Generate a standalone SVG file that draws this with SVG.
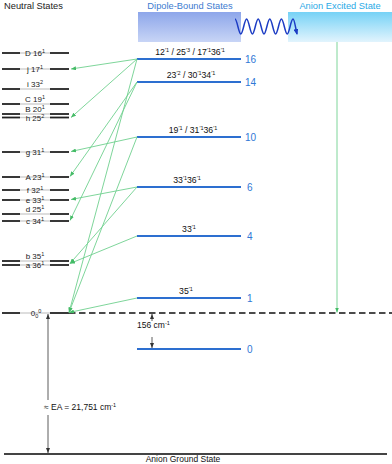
<svg xmlns="http://www.w3.org/2000/svg" width="392" height="464" viewBox="0 0 392 464">
<style>
text{font-family:"Liberation Sans",Arial,sans-serif;}
.ttl{font-size:9.3px;}
.nl{font-size:8px;fill:#222;text-anchor:middle;}
.sup{font-size:5.5px;}
.dl{font-size:8.7px;fill:#111;text-anchor:middle;}
.num{font-size:10px;fill:#2f78d6;}
.blk{stroke:#222;stroke-width:1.8;}
.gry{stroke:#cfcfcf;stroke-width:1.4;}
.blue{stroke:#2d6fd0;stroke-width:1.9;}
.g{stroke:#6fd08f;stroke-width:0.9;fill:none;marker-end:url(#ga);}
.k{stroke:#333;stroke-width:0.8;fill:none;}
</style>
<defs>
<marker id="ga" markerUnits="userSpaceOnUse" markerWidth="5" markerHeight="4" refX="5" refY="2" orient="auto"><path d="M0,0 L5,2 L0,4 z" fill="#44bb66"/></marker>
<marker id="ka" markerUnits="userSpaceOnUse" markerWidth="5" markerHeight="4" refX="5" refY="2" orient="auto"><path d="M0,0 L5,2 L0,4 z" fill="#333"/></marker>
<marker id="ba" markerUnits="userSpaceOnUse" markerWidth="6" markerHeight="5" refX="5" refY="2.5" orient="auto"><path d="M0,0 L6,2.5 L0,5 z" fill="#1c3cc4"/></marker>
<linearGradient id="gd" x1="0" y1="0" x2="0" y2="1"><stop offset="0" stop-color="#8da6ea"/><stop offset="1" stop-color="#c8d5f6"/></linearGradient>
<linearGradient id="ge" x1="0" y1="0" x2="0" y2="1"><stop offset="0" stop-color="#76d2f6"/><stop offset="1" stop-color="#e2f4fd"/></linearGradient>
</defs>

<g id="headers">
<text class="ttl" x="4" y="9" fill="#222">Neutral States</text>
<text class="ttl" x="190" y="9" fill="#3d7bd0" text-anchor="middle">Dipole-Bound States</text>
<text class="ttl" x="340" y="9" fill="#2aa9e6" text-anchor="middle">Anion Excited State</text>
<rect id="dbs-box" x="138" y="12" width="103" height="30" fill="url(#gd)"/>
<rect id="aes-box" x="288" y="12" width="104" height="30" fill="url(#ge)"/>
<path d="M235,19 C237.1,19 238.7,34 240.8,34 C242.9,34 244.5,19 246.6,19 C248.7,19 250.3,34 252.4,34 C254.5,34 256.1,19 258.2,19 C260.3,19 261.9,34 264,34 C266.1,34 267.7,19 269.8,19 C271.9,19 273.5,34 275.6,34 C277.7,34 279.3,19 281.4,19 C283.5,19 285.1,34 287.2,34 C289.3,34 290.9,19 293,19 C294.5,19 295.5,28 297,34" fill="none" stroke="#1c3cc4" stroke-width="1.5" marker-end="url(#ba)"/>
</g>

<g id="neutral-levels">
<g id="n-D"><line class="gry" x1="20" y1="53" x2="50" y2="53"/><line class="blk" x1="2" y1="53" x2="20" y2="53"/><line class="blk" x1="50" y1="53" x2="69" y2="53"/><text class="nl" x="35" y="56">D 16<tspan class="sup" dy="-3">1</tspan></text></g>
<g id="n-j"><line class="gry" x1="20" y1="69" x2="50" y2="69"/><line class="blk" x1="2" y1="69" x2="20" y2="69"/><line class="blk" x1="50" y1="69" x2="69" y2="69"/><text class="nl" x="35" y="72">j 17<tspan class="sup" dy="-3">1</tspan></text></g>
<g id="n-i"><line class="gry" x1="20" y1="89" x2="50" y2="89"/><line class="blk" x1="2" y1="89" x2="20" y2="89"/><line class="blk" x1="50" y1="89" x2="69" y2="89"/><text class="nl" x="35" y="87">i 33<tspan class="sup" dy="-3">2</tspan></text></g>
<g id="n-C"><line class="gry" x1="20" y1="104" x2="50" y2="104"/><line class="blk" x1="2" y1="104" x2="20" y2="104"/><line class="blk" x1="50" y1="104" x2="69" y2="104"/><text class="nl" x="35" y="102">C 19<tspan class="sup" dy="-3">1</tspan></text></g>
<g id="n-B"><line class="gry" x1="20" y1="114" x2="50" y2="114"/><line class="blk" x1="2" y1="114" x2="20" y2="114"/><line class="blk" x1="50" y1="114" x2="69" y2="114"/><text class="nl" x="35" y="112">B 20<tspan class="sup" dy="-3">1</tspan></text></g>
<g id="n-h"><line class="gry" x1="20" y1="117.5" x2="50" y2="117.5"/><line class="blk" x1="2" y1="117.5" x2="20" y2="117.5"/><line class="blk" x1="50" y1="117.5" x2="69" y2="117.5"/><text class="nl" x="35" y="121">h 25<tspan class="sup" dy="-3">2</tspan></text></g>
<g id="n-g"><line class="gry" x1="20" y1="152" x2="50" y2="152"/><line class="blk" x1="2" y1="152" x2="20" y2="152"/><line class="blk" x1="50" y1="152" x2="69" y2="152"/><text class="nl" x="35" y="155">g 31<tspan class="sup" dy="-3">1</tspan></text></g>
<g id="n-A"><line class="gry" x1="20" y1="177" x2="50" y2="177"/><line class="blk" x1="2" y1="177" x2="20" y2="177"/><line class="blk" x1="50" y1="177" x2="69" y2="177"/><text class="nl" x="35" y="180">A 23<tspan class="sup" dy="-3">1</tspan></text></g>
<g id="n-f"><line class="gry" x1="20" y1="190" x2="50" y2="190"/><line class="blk" x1="2" y1="190" x2="20" y2="190"/><line class="blk" x1="50" y1="190" x2="69" y2="190"/><text class="nl" x="35" y="193">f 32<tspan class="sup" dy="-3">1</tspan></text></g>
<g id="n-e"><line class="gry" x1="20" y1="200" x2="50" y2="200"/><line class="blk" x1="2" y1="200" x2="20" y2="200"/><line class="blk" x1="50" y1="200" x2="69" y2="200"/><text class="nl" x="35" y="203">e 33<tspan class="sup" dy="-3">1</tspan></text></g>
<g id="n-d"><line class="gry" x1="20" y1="214" x2="50" y2="214"/><line class="blk" x1="2" y1="214" x2="20" y2="214"/><line class="blk" x1="50" y1="214" x2="69" y2="214"/><text class="nl" x="35" y="212">d 25<tspan class="sup" dy="-3">1</tspan></text></g>
<g id="n-c"><line class="gry" x1="20" y1="221" x2="50" y2="221"/><line class="blk" x1="2" y1="221" x2="20" y2="221"/><line class="blk" x1="50" y1="221" x2="69" y2="221"/><text class="nl" x="35" y="224">c 34<tspan class="sup" dy="-3">1</tspan></text></g>
<g id="n-b"><line class="gry" x1="20" y1="261" x2="50" y2="261"/><line class="blk" x1="2" y1="261" x2="20" y2="261"/><line class="blk" x1="50" y1="261" x2="69" y2="261"/><text class="nl" x="35" y="259">b 35<tspan class="sup" dy="-3">1</tspan></text></g>
<g id="n-a"><line class="gry" x1="20" y1="265" x2="50" y2="265"/><line class="blk" x1="2" y1="265" x2="20" y2="265"/><line class="blk" x1="50" y1="265" x2="69" y2="265"/><text class="nl" x="35" y="268">a 36<tspan class="sup" dy="-3">1</tspan></text></g>
<g id="n-000"><line class="gry" x1="20" y1="313" x2="50" y2="313"/><line class="blk" x1="2" y1="313" x2="20" y2="313"/><line class="blk" x1="50" y1="313" x2="69" y2="313"/><text class="nl" x="36" y="316">0<tspan class="sup" dy="1.5">0</tspan><tspan class="sup" dy="-5">0</tspan></text></g>
</g>

<g id="dipole-levels">
<g id="d16"><line class="blue" x1="137" y1="59" x2="241" y2="59"/><text class="dl" x="190" y="55">12<tspan class="sup" dy="-3">′1</tspan><tspan dy="3"> / 25</tspan><tspan class="sup" dy="-3">′3</tspan><tspan dy="3"> / 17</tspan><tspan class="sup" dy="-3">′1</tspan><tspan dy="3">36</tspan><tspan class="sup" dy="-3">′1</tspan></text><text class="num" x="245" y="63">16</text></g>
<g id="d14"><line class="blue" x1="137" y1="82" x2="241" y2="82"/><text class="dl" x="191" y="78">23<tspan class="sup" dy="-3">′2</tspan><tspan dy="3"> / 30</tspan><tspan class="sup" dy="-3">′1</tspan><tspan dy="3">34</tspan><tspan class="sup" dy="-3">′1</tspan></text><text class="num" x="245" y="86">14</text></g>
<g id="d10"><line class="blue" x1="137" y1="137" x2="241" y2="137"/><text class="dl" x="193" y="133">19<tspan class="sup" dy="-3">′1</tspan><tspan dy="3"> / 31</tspan><tspan class="sup" dy="-3">′1</tspan><tspan dy="3">36</tspan><tspan class="sup" dy="-3">′1</tspan></text><text class="num" x="245" y="141">10</text></g>
<g id="d6"><line class="blue" x1="137" y1="187" x2="241" y2="187"/><text class="dl" x="187" y="183">33<tspan class="sup" dy="-3">′1</tspan><tspan dy="3">36</tspan><tspan class="sup" dy="-3">′1</tspan></text><text class="num" x="247" y="191">6</text></g>
<g id="d4"><line class="blue" x1="137" y1="236" x2="241" y2="236"/><text class="dl" x="189" y="232">33<tspan class="sup" dy="-3">′1</tspan></text><text class="num" x="247" y="240">4</text></g>
<g id="d1"><line class="blue" x1="137" y1="298" x2="241" y2="298"/><text class="dl" x="186" y="294">35<tspan class="sup" dy="-3">′1</tspan></text><text class="num" x="247" y="302">1</text></g>
<g id="d0"><line class="blue" x1="137" y1="349" x2="241" y2="349"/><text class="num" x="247" y="353">0</text></g>
</g>

<g id="ground">
<line x1="4" y1="454" x2="387" y2="454" stroke="#444" stroke-width="2"/>
<text x="183" y="462" font-size="8.5" fill="#111" text-anchor="middle">Anion Ground State</text>
</g>

<g id="connectors">
<line x1="69" y1="313" x2="392" y2="313" stroke="#111" stroke-width="1.6" stroke-dasharray="6.5 3.5"/>
<line class="g" x1="137" y1="59" x2="71" y2="69"/>
<line class="g" x1="137" y1="59" x2="71" y2="117.5"/>
<line class="g" x1="137" y1="59" x2="69" y2="312.5"/>
<line class="g" x1="137" y1="82" x2="70" y2="176.5"/>
<line class="g" x1="137" y1="82" x2="70" y2="220.5"/>
<line class="g" x1="137" y1="137" x2="71" y2="151.5"/>
<line class="g" x1="137" y1="137" x2="69" y2="312.5"/>
<line class="g" x1="137" y1="187" x2="71" y2="199.5"/>
<line class="g" x1="137" y1="187" x2="70" y2="263.5"/>
<line class="g" x1="137" y1="236" x2="70" y2="263.5"/>
<line class="g" x1="137" y1="298" x2="69" y2="312.5"/>
<line class="g" x1="337" y1="42" x2="337" y2="312.5"/>
<line class="k" x1="152" y1="321" x2="152" y2="314" marker-end="url(#ka)"/>
<line class="k" x1="152" y1="337" x2="152" y2="348" marker-end="url(#ka)"/>
<text x="137" y="328" font-size="8.5" fill="#111">156 cm<tspan font-size="5.5" dy="-3">-1</tspan></text>
<line class="k" x1="48" y1="400" x2="48" y2="314" marker-end="url(#ka)"/>
<line class="k" x1="48" y1="415" x2="48" y2="453" marker-end="url(#ka)"/>
<text x="44" y="410" font-size="8.5" fill="#111">≈ EA = 21,751 cm<tspan font-size="5.5" dy="-3">-1</tspan></text>
</g>
</svg>
